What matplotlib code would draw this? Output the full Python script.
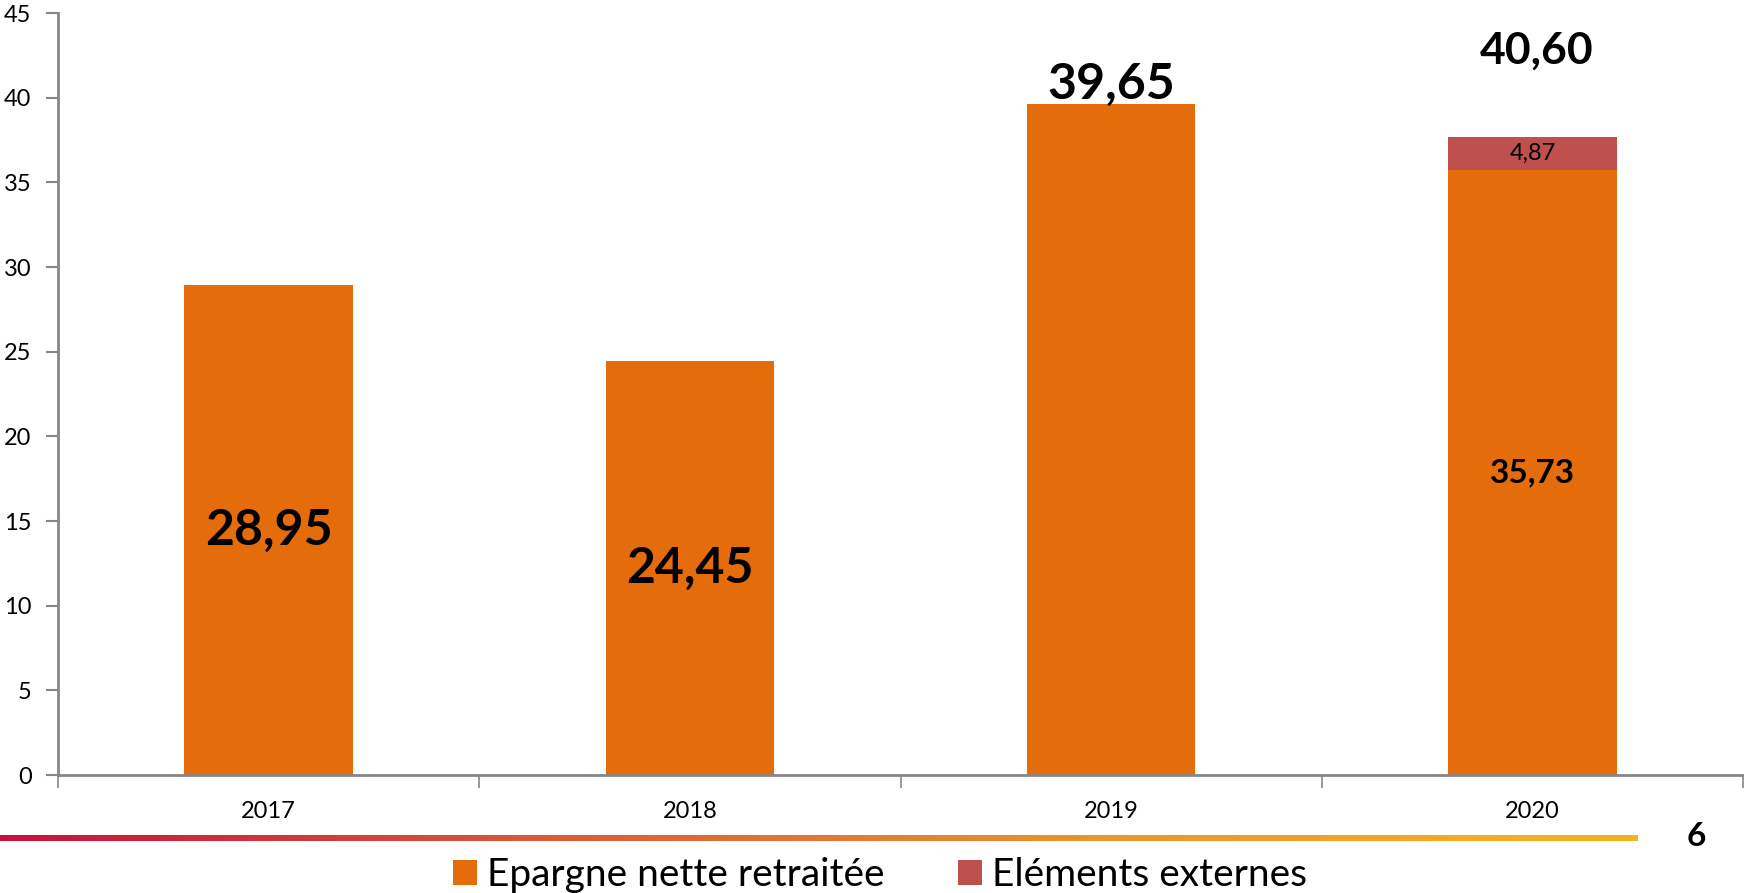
import numpy as np
import matplotlib.pyplot as plt
from matplotlib.colors import LinearSegmentedColormap

plt.rcParams['font.family'] = ['Lato', 'DejaVu Sans']

years = ["2017", "2018", "2019", "2020"]
epargne = [28.95, 24.45, 39.65, 35.73]
# height of the red segment as drawn in the picture, and its printed label
externes = [0, 0, 0, 1.95]
externes_label = "4,87"
totals = ["28,95", "24,45", "39,65", "40,60"]
epargne_labels = ["28,95", "24,45", "", "35,73"]

orange = "#E46C0A"
red = "#C0504D"
grey = "#868686"

fig = plt.figure(figsize=(17.44, 8.93), dpi=100)
ax = fig.add_axes([58 / 1744, 118 / 893, 1685 / 1744, 762 / 893])

x = np.arange(len(years))
ax.bar(x, epargne, width=0.40, color=orange, label="Epargne nette retraitée")
ax.bar(x, externes, width=0.40, bottom=epargne, color=red, label="Eléments externes")

ax.set_xlim(-0.5, 3.5)
ax.set_ylim(0, 45)
ax.set_yticks(range(0, 46, 5))
ax.set_xticks(x)
ax.set_xticklabels(years)
ax.set_xticks([-0.5, 0.5, 1.5, 2.5, 3.5], minor=True)
ax.tick_params(axis='x', which='major', length=0, pad=19, labelsize=17)
ax.tick_params(axis='x', which='minor', length=9, width=1.2, color=grey, direction='out')
ax.tick_params(axis='y', length=9, width=1.5, color=grey, pad=10, labelsize=17)
for s in ['top', 'right']:
    ax.spines[s].set_visible(False)
for s in ['left', 'bottom']:
    ax.spines[s].set_color(grey)
    ax.spines[s].set_linewidth(2)

# big labels inside bars
ax.text(0, epargne[0] / 2, totals[0], ha='center', va='center', fontsize=36, fontweight='bold')
ax.text(1, epargne[1] / 2, totals[1], ha='center', va='center', fontsize=36, fontweight='bold')
ax.annotate(totals[2], (2, epargne[2]), xytext=(0, -2), textcoords='offset points',
            ha='center', va='bottom', fontsize=36, fontweight='bold')
ax.text(3, epargne[3] / 2, epargne_labels[3], ha='center', va='center', fontsize=24, fontweight='bold')
ax.text(3, epargne[3] + externes[3] / 2, externes_label, ha='center', va='center', fontsize=17)
ax.annotate(totals[3], (3, 40.6), xytext=(3, 12), textcoords='offset points',
            ha='center', va='bottom', fontsize=32, fontweight='bold')

# gradient line under the chart
cmap = LinearSegmentedColormap.from_list("band", ["#C8103E", "#DC5A3A", "#E8962E", "#F5B41E"])
gax = fig.add_axes([0, 52 / 893, 1637 / 1744, 6 / 893])
gax.imshow(np.linspace(0, 1, 512)[None, :], aspect='auto', cmap=cmap)
gax.set_axis_off()

fig.text(1696 / 1744, 1 - 837 / 893, "6", ha='center', va='center', fontsize=24, fontweight='bold')

fig.legend(loc='center', bbox_to_anchor=(880 / 1744, 1 - 875 / 893), ncol=2, frameon=False,
           fontsize=28, handlelength=0.62, handleheight=0.62, handletextpad=0.25,
           columnspacing=1.9)

fig.savefig("out.png", dpi=100)
